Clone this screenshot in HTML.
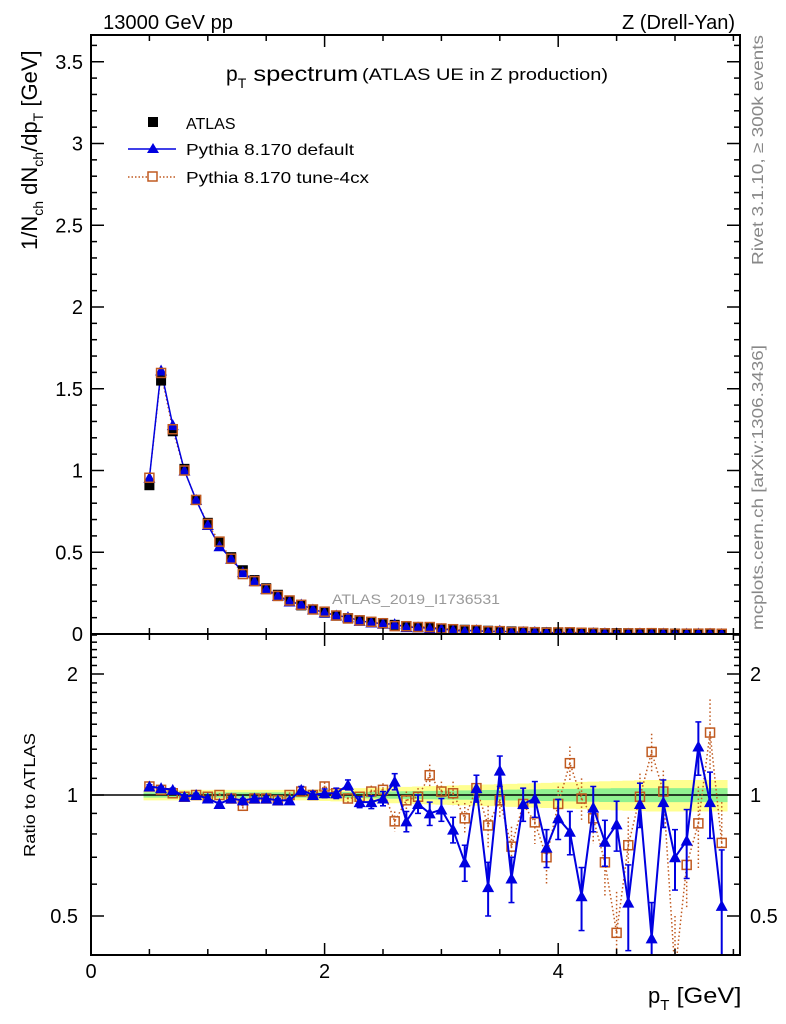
<!DOCTYPE html>
<html><head><meta charset="utf-8">
<style>
html,body{margin:0;padding:0;background:#fff;}
svg{display:block;font-family:"Liberation Sans",sans-serif;}
</style></head>
<body>
<svg id="chart" width="786" height="1024" viewBox="0 0 786 1024" xmlns="http://www.w3.org/2000/svg">
<defs>
<clipPath id="clipMain"><rect x="91" y="35" width="649" height="599"/></clipPath>
<clipPath id="clipRatio"><rect x="91" y="634" width="649" height="321"/></clipPath>
</defs>
<text x="103" y="29" font-size="20" textLength="130" lengthAdjust="spacingAndGlyphs">13000 GeV pp</text>
<text x="622" y="29" font-size="20" textLength="113" lengthAdjust="spacingAndGlyphs">Z (Drell-Yan)</text>
<text x="226" y="81" font-size="21">p<tspan font-size="14" dy="7">T</tspan><tspan dy="-7" textLength="112" lengthAdjust="spacingAndGlyphs"> spectrum</tspan></text>
<text x="362" y="80" font-size="17" textLength="246" lengthAdjust="spacingAndGlyphs">(ATLAS UE in Z production)</text>
<text x="332" y="604" font-size="14" fill="#999" textLength="168" lengthAdjust="spacingAndGlyphs">ATLAS_2019_I1736531</text>
<text transform="translate(763,265) rotate(-90)" font-size="16" fill="#888" textLength="230" lengthAdjust="spacingAndGlyphs">Rivet 3.1.10, ≥ 300k events</text>
<text transform="translate(763,630) rotate(-90)" font-size="16" fill="#888" textLength="285" lengthAdjust="spacingAndGlyphs">mcplots.cern.ch [arXiv:1306.3436]</text>
<g transform="translate(37,250) rotate(-90)">
<text x="0" y="0" font-size="22">1/N<tspan font-size="14" dy="6">ch</tspan><tspan dy="-6"> dN</tspan><tspan font-size="14" dy="6">ch</tspan><tspan dy="-6">/dp</tspan><tspan font-size="14" dy="6">T</tspan><tspan dy="-6"> [GeV]</tspan></text>
</g>
<text transform="translate(35,857) rotate(-90)" font-size="16" textLength="124" lengthAdjust="spacingAndGlyphs">Ratio to ATLAS</text>
<text x="648" y="1003" font-size="22">p<tspan font-size="15" dy="7">T</tspan><tspan dy="-7" textLength="72" lengthAdjust="spacingAndGlyphs"> [GeV]</tspan></text>
<g id="bands" clip-path="url(#clipRatio)"></g>
<g id="ratioMarks" clip-path="url(#clipRatio)"></g>
<g id="mainMarks" clip-path="url(#clipMain)"></g>
<g id="axes"></g>
<g id="legend">
<rect x="148" y="117" width="10" height="10" fill="#000"/>
<text x="186" y="129" font-size="16">ATLAS</text>
<line x1="128" y1="149" x2="176" y2="149" stroke="#0000e0" stroke-width="1.5"/>
<polygon points="153,143 147,153 159,153" fill="#0000e0"/>
<text x="186" y="155" font-size="16" textLength="168" lengthAdjust="spacingAndGlyphs">Pythia 8.170 default</text>
<line x1="128" y1="177" x2="176" y2="177" stroke="#c05a20" stroke-width="1.5" stroke-dasharray="1.5,2"/>
<rect x="148" y="172" width="9" height="9" fill="#fff" stroke="#c05a20" stroke-width="1.5"/>
<text x="186" y="183" font-size="16" textLength="183" lengthAdjust="spacingAndGlyphs">Pythia 8.170 tune-4cx</text>
</g>
</svg>
<script>
const pT=[0.5,0.6,0.7,0.8,0.9,1.0,1.1,1.2,1.3,1.4,1.5,1.6,1.7,1.8,1.9,2.0,2.1,2.2,2.3,2.4,2.5,2.6,2.7,2.8,2.9,3.0,3.1,3.2,3.3,3.4,3.5,3.6,3.7,3.8,3.9,4.0,4.1,4.2,4.3,4.4,4.5,4.6,4.7,4.8,4.9,5.0,5.1,5.2,5.3,5.4];
const atlasValues=[0.91,1.55,1.24,1.01,0.82,0.68,0.565,0.47,0.39,0.33,0.28,0.24,0.205,0.175,0.15,0.13,0.112,0.097,0.084,0.073,0.064,0.056,0.049,0.043,0.038,0.033,0.029,0.026,0.023,0.020,0.018,0.016,0.014,0.0125,0.011,0.0098,0.0087,0.0077,0.0069,0.0061,0.0055,0.0049,0.0044,0.0039,0.0035,0.0031,0.0028,0.0025,0.0022,0.002];
const ratioDefault=[1.05,1.04,1.03,0.99,1.0,0.98,0.95,0.98,0.97,0.98,0.98,0.97,0.97,1.03,1.0,1.01,1.01,1.06,0.96,0.96,0.98,1.08,0.86,0.95,0.90,0.92,0.82,0.68,1.04,0.59,1.15,0.62,0.95,0.98,0.74,0.875,0.81,0.56,0.93,0.765,0.845,0.54,0.95,0.44,0.96,0.70,0.77,1.32,0.96,0.53];
const errDefault=[0.01,0.01,0.01,0.01,0.01,0.01,0.01,0.01,0.01,0.01,0.01,0.01,0.01,0.02,0.02,0.025,0.03,0.03,0.03,0.035,0.04,0.05,0.05,0.05,0.06,0.06,0.06,0.07,0.08,0.09,0.1,0.08,0.09,0.1,0.08,0.1,0.1,0.1,0.12,0.1,0.12,0.13,0.12,0.1,0.13,0.12,0.15,0.2,0.18,0.2];
const ratioTune=[1.05,1.03,1.01,0.99,1.0,0.99,1.0,0.98,0.94,0.98,0.98,0.97,1.0,1.02,1.0,1.05,1.01,0.98,0.99,1.02,1.03,0.86,0.97,0.99,1.12,1.02,1.01,0.875,1.04,0.84,0.97,0.744,0.95,0.855,0.70,0.95,1.20,0.98,0.875,0.68,0.454,0.75,0.99,1.28,1.02,0.36,0.67,0.85,1.43,0.76];
const errTune=[0.01,0.01,0.01,0.01,0.01,0.01,0.01,0.01,0.015,0.01,0.01,0.01,0.015,0.02,0.02,0.025,0.03,0.03,0.03,0.035,0.04,0.05,0.05,0.05,0.07,0.06,0.07,0.08,0.08,0.1,0.1,0.09,0.09,0.1,0.1,0.1,0.12,0.12,0.12,0.12,0.12,0.13,0.14,0.14,0.13,0.14,0.15,0.2,0.3,0.2];
const bandInner=[0.015,0.015,0.015,0.015,0.015,0.015,0.015,0.015,0.015,0.015,0.015,0.015,0.015,0.015,0.015,0.015,0.016,0.017,0.018,0.019,0.02,0.021,0.022,0.023,0.024,0.025,0.026,0.027,0.028,0.029,0.03,0.031,0.032,0.033,0.034,0.035,0.036,0.037,0.038,0.039,0.04,0.04,0.04,0.04,0.04,0.04,0.04,0.04,0.04,0.04];
const bandOuter=[0.03,0.03,0.03,0.03,0.03,0.03,0.03,0.03,0.03,0.03,0.03,0.03,0.03,0.03,0.032,0.034,0.036,0.038,0.04,0.042,0.044,0.046,0.048,0.05,0.052,0.054,0.056,0.058,0.06,0.062,0.064,0.066,0.068,0.07,0.072,0.074,0.076,0.078,0.08,0.082,0.084,0.086,0.088,0.09,0.09,0.09,0.09,0.09,0.09,0.09];
const mainYTicks=[0,0.5,1,1.5,2,2.5,3,3.5];
const mainYLabels=["0","0.5","1","1.5","2","2.5","3","3.5"];
const xTickLabels=["0","2","4"];
const ratioTicks=[0.5,1,2];
const ratioLabels=["0.5","1","2"];

const NS="http://www.w3.org/2000/svg";
const X0=91,X1=740,MT=35,MB=634,RB=955;
const xS=v=>X0+v*116.8;
const yM=v=>634-v*163.5;
const yR=v=>795-Math.log2(v)*121;
function mk(tag,attrs,parent){const e=document.createElementNS(NS,tag);for(const k in attrs)e.setAttribute(k,attrs[k]);parent.appendChild(e);return e;}
const bands=document.getElementById('bands'),rm=document.getElementById('ratioMarks'),mm=document.getElementById('mainMarks'),ax=document.getElementById('axes');
function bandPath(arr){let top='',bot='';for(let i=0;i<pT.length;i++){const xa=xS(pT[i]-0.05),b=xS(pT[i]+0.05);top+=(i?'L':'M')+xa+','+yR(1+arr[i])+'L'+b+','+yR(1+arr[i]);}
for(let i=pT.length-1;i>=0;i--){const xa=xS(pT[i]-0.05),b=xS(pT[i]+0.05);bot+='L'+b+','+yR(1-arr[i])+'L'+xa+','+yR(1-arr[i]);}return top+bot+'Z';}
let p=mk('path',{d:bandPath(bandOuter),fill:'#ffff90'},bands);


p=mk('path',{d:bandPath(bandInner),fill:'#90f090'},bands);


mk('line',{x1:X0,x2:X1,y1:yR(1),y2:yR(1),stroke:'#000','stroke-width':1.5},rm);
let d='';pT.forEach((v,i)=>{d+=(i?'L':'M')+xS(v)+','+yR(ratioTune[i]);});
p=mk('path',{d:d,fill:'none',stroke:'#c05a20','stroke-width':1.5,'stroke-dasharray':'1.5,2.5'},rm);


pT.forEach((v,i)=>{const x=xS(v);
 mk('line',{x1:x,x2:x,y1:yR(ratioTune[i]+errTune[i]),y2:yR(Math.max(ratioTune[i]-errTune[i],0.01)),stroke:'#c05a20','stroke-width':1.5,'stroke-dasharray':'1.5,2.5'},rm);
 const r=mk('rect',{x:x-4.5,y:yR(ratioTune[i])-4.5,width:9,height:9,fill:'none',stroke:'#c05a20','stroke-width':1.5},rm);
 
 
 mk('rect',{x:x-0.8,y:yR(ratioTune[i])-0.8,width:1.6,height:1.6,fill:'#c05a20'},rm);
});
d='';pT.forEach((v,i)=>{d+=(i?'L':'M')+xS(v)+','+yR(ratioDefault[i]);});
p=mk('path',{d:d,fill:'none',stroke:'#0000e0','stroke-width':2},rm);


pT.forEach((v,i)=>{const x=xS(v),yt=yR(ratioDefault[i]+errDefault[i]),yb=yR(Math.max(ratioDefault[i]-errDefault[i],0.01));
 mk('line',{x1:x,x2:x,y1:yt,y2:yb,stroke:'#0000e0','stroke-width':2},rm);
 mk('line',{x1:x-3,x2:x+3,y1:yt,y2:yt,stroke:'#0000e0','stroke-width':1.5},rm);
 mk('line',{x1:x-3,x2:x+3,y1:yb,y2:yb,stroke:'#0000e0','stroke-width':1.5},rm);
 const y=yR(ratioDefault[i]);
 const t=mk('polygon',{points:`${x},${y-6} ${x-6},${y+5} ${x+6},${y+5}`,fill:'#0000e0'},rm);
 
 
});
d='';pT.forEach((v,i)=>{d+=(i?'L':'M')+xS(v)+','+yM(atlasValues[i]*ratioTune[i]);});
mk('path',{d:d,fill:'none',stroke:'#c05a20','stroke-width':1.5,'stroke-dasharray':'1.5,2.5'},mm);
d='';pT.forEach((v,i)=>{d+=(i?'L':'M')+xS(v)+','+yM(atlasValues[i]*ratioDefault[i]);});
mk('path',{d:d,fill:'none',stroke:'#0000e0','stroke-width':1.5},mm);
pT.forEach((v,i)=>{const x=xS(v);
 const a=mk('rect',{x:x-5,y:yM(atlasValues[i])-5,width:10,height:10,fill:'#000'},mm);
 
 
 const y=yM(atlasValues[i]*ratioDefault[i]);
 const t=mk('polygon',{points:`${x},${y-6} ${x-6},${y+5} ${x+6},${y+5}`,fill:'#0000e0'},mm);
 
 
 const r=mk('rect',{x:x-4.5,y:yM(atlasValues[i]*ratioTune[i])-4.5,width:9,height:9,fill:'none',stroke:'#c05a20','stroke-width':1.5},mm);
 
 
});
mk('rect',{x:X0,y:MT,width:X1-X0,height:MB-MT,fill:'none',stroke:'#000','stroke-width':2},ax);
mk('rect',{x:X0,y:MB,width:X1-X0,height:RB-MB,fill:'none',stroke:'#000','stroke-width':2},ax);
for(let k=0;k<=11;k++){const v=k*0.5;const x=xS(v);if(x>X1)break;const L=(k%4===0)?12:6;
 [[MB,-1],[MT,1],[RB,-1],[MB,1]].forEach(([y0,s])=>mk('line',{x1:x,x2:x,y1:y0,y2:y0+s*L,stroke:'#000','stroke-width':1.5},ax));}
xTickLabels.forEach(l=>{const t=mk('text',{x:xS(+l),y:978,'font-size':20,'text-anchor':'middle'},ax);t.textContent=l;
 
 });
for(let k=0;k<=36;k++){const v=k*0.1;const y=yM(v);const L=(k%5===0)?13:6;
 mk('line',{x1:X0,x2:X0+L,y1:y,y2:y,stroke:'#000','stroke-width':1.5},ax);
 mk('line',{x1:X1,x2:X1-L,y1:y,y2:y,stroke:'#000','stroke-width':1.5},ax);}
mainYTicks.forEach((v,i)=>{const t=mk('text',{x:83,y:yM(v)+7,'font-size':20,'text-anchor':'end'},ax);t.textContent=mainYLabels[i];
 
 });
[0.5,0.6,0.7,0.8,0.9,1,1.1,1.2,1.3,1.4,1.5,1.6,1.7,1.8,1.9,2,2.1,2.2,2.3,2.4,2.5].forEach(v=>{const y=yR(v);if(y<MB||y>RB)return;const L=ratioTicks.includes(v)?13:6;
 mk('line',{x1:X0,x2:X0+L,y1:y,y2:y,stroke:'#000','stroke-width':1.5},ax);
 mk('line',{x1:X1,x2:X1-L,y1:y,y2:y,stroke:'#000','stroke-width':1.5},ax);});
ratioTicks.forEach((v,i)=>{let t=mk('text',{x:78,y:yR(v)+7,'font-size':20,'text-anchor':'end'},ax);t.textContent=ratioLabels[i];
 
 
 t=mk('text',{x:750,y:yR(v)+7,'font-size':20},ax);t.textContent=ratioLabels[i];
 
 });
</script>
</body></html>
